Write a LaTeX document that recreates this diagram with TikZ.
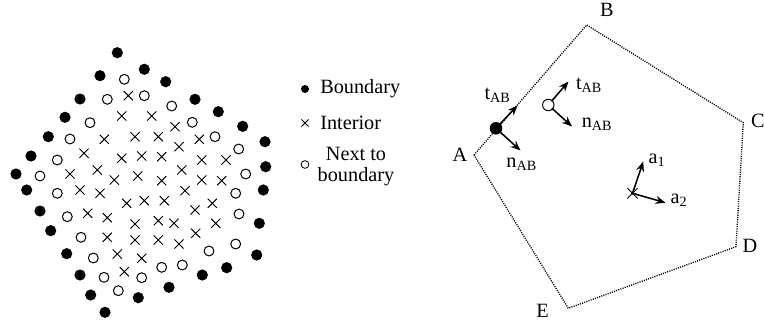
\documentclass[tikz,border=0pt]{standalone}
\usepackage{fontspec}
\setmainfont{Liberation Serif}
\usetikzlibrary{shapes.misc,arrows.meta}

\tikzset{
  bdot/.style={circle,fill=black,inner sep=0pt,minimum size=8.4pt},
  odot/.style={circle,draw=black,line width=0.75pt,fill=white,inner sep=0pt,minimum size=7.4pt},
  xmark/.style={cross out,draw=black,line width=0.7pt,inner sep=0pt,minimum size=6.2pt},
  lbl/.style={inner sep=0.75pt,font=\fontsize{15.2}{15.8}\selectfont},
  edge/.style={line width=1pt,dash pattern=on 0.8pt off 0.9pt},
  vec/.style={line width=1.15pt,-{Stealth[length=7.5pt,width=6pt]},shorten <=-1pt},
}

\begin{document}
\begin{tikzpicture}[x=0.75pt,y=0.75pt,yscale=-1,xscale=1]
    \useasboundingbox (0,0) rectangle (764,328);

    % point cloud: boundary
    \foreach \px/\py [count=\i] in {117.3/52.7, 100/75.7, 144.3/69.3, 165.7/81.7, 80/99, 195/99.3, 65/117.3, 218.3/111.7, 48.3/136.7, 242.7/126.3, 265/141.7, 31/156, 265.7/166.7, 16/174, 26.7/190, 263.3/190, 40/211, 259.3/223.3, 50.7/230.7, 66.7/253.7, 256.7/255, 80/275, 226.7/267.7, 202.3/275, 169/287.3, 90.7/295, 138.3/297.7, 105/312.3}
        \node[bdot] (b\i) at (\px,\py) {};
    % point cloud: next to boundary
    \foreach \px/\py [count=\i] in {124.3/79.3, 107.3/99.3, 144.3/95.7, 171.7/106, 90/122.7, 192.3/122.3, 70/139, 215/136.7, 57.3/160, 238.7/149, 40/176, 245.7/174, 57.3/193.3, 235.7/193.3, 67.3/216.7, 239/214, 81/237.3, 235.7/244, 93.3/258, 209/251, 104/277.3, 182.3/265, 161.7/267.3, 141.7/277.7, 118.3/290.7}
        \node[odot] (o\i) at (\px,\py) {};
    % point cloud: interior
    \foreach \px/\py [count=\i] in {128.3/95.7, 121.7/116, 151.7/116, 175/126.7, 104.3/139.3, 135/136.7, 158.3/136.7, 199.3/139.3, 179/146.7, 84/153.3, 121.7/158.3, 141.7/156, 161.7/156.7, 201.7/160, 226/160, 97.3/170, 70/174, 114.3/180, 137.7/176, 161.7/180.7, 181.7/170, 201.7/180, 221.7/180.7, 80/190, 100/193.3, 185/190.7, 126.7/203.3, 144.3/200.7, 164.3/200.7, 212.3/203.3, 195/210, 87.7/213.3, 107.3/217.7, 135/224, 158.3/220.7, 174/223.3, 215.7/223.3, 107.3/237.3, 135/240, 158.3/240, 179/244, 195.7/233.3, 117.3/254, 141.7/258.3, 124.3/271.7}
        \node[xmark] (x\i) at (\px,\py) {};

    % legend
    \node[bdot,minimum size=6pt] (kb) at (305,89) {};
    \node[xmark,minimum size=4.6pt] (kx) at (305,123) {};
    \node[odot,minimum size=5.8pt,line width=0.6pt] (ko) at (305,164.5) {};
    \node[lbl,anchor=west] (tb) at (319,89) {Boundary};
    \node[lbl,anchor=west] (tx) at (319,123) {Interior};
    \node[lbl,align=center] (to) at (356,167) {Next to\\boundary};

    % pentagon
    \coordinate (A) at (474,155);
    \coordinate (B) at (586.7,25);
    \coordinate (C) at (743.3,122.7);
    \coordinate (D) at (736,246.7);
    \coordinate (E) at (568.3,308.3);
    \draw[edge] (A) -- (B) -- (C) -- (D) -- (E) -- cycle;
    \node[lbl] (lA) at (460,155) {A};
    \node[lbl] (lB) at (607,10) {B};
    \node[lbl] (lC) at (758,121) {C};
    \node[lbl] (lD) at (750,246) {D};
    \node[lbl] (lE) at (542.5,310.5) {E};

    % boundary point with local frame
    \node[bdot,minimum size=9.4pt] (p1) at (496,128.3) {};
    \coordinate (p1t) at (517.5,105.5);
    \coordinate (p1n) at (520.5,150.5);
    \draw[vec] (p1) -- (p1t);
    \draw[vec] (p1) -- (p1n);
    \node[lbl] (lp1t) at (497.5,95) {t\textsubscript{AB}};
    \node[lbl] (lp1n) at (521.7,164) {n\textsubscript{AB}};

    % next-to-boundary point
    \node[odot,minimum size=8.6pt] (p2) at (548.3,105) {};
    \coordinate (p2t) at (568.5,81.5);
    \coordinate (p2n) at (572,126.5);
    \draw[vec] (p2) -- (p2t);
    \draw[vec] (p2) -- (p2n);
    \node[lbl] (lp2t) at (589,85.5) {t\textsubscript{AB}};
    \node[lbl] (lp2n) at (597,124) {n\textsubscript{AB}};

    % interior point
    \node[xmark,minimum size=7pt] (p3) at (632.5,193.3) {};
    \coordinate (p3a) at (643.3,161.5);
    \coordinate (p3b) at (665.5,202.7);
    \draw[vec] (p3.center) -- (p3a);
    \draw[vec] (p3.center) -- (p3b);
    \node[lbl] (lp3a) at (657,160) {a\textsubscript{1}};
    \node[lbl] (lp3b) at (679,200) {a\textsubscript{2}};

\end{tikzpicture}
\end{document}
